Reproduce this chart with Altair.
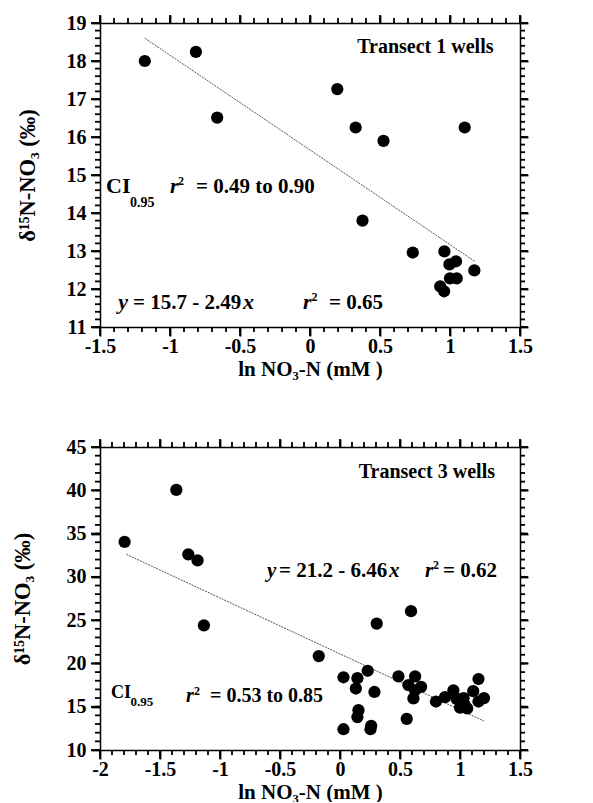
import altair as alt
import pandas as pd

# ---------------- data ----------------
top_x = [-1.18, -0.815, -0.663, 0.195, 0.326, 0.525, 1.105, 0.375, 0.734,
         0.96, 0.996, 1.043, 1.174, 0.93, 0.958, 1.0, 1.048]
top_y = [18.0, 18.24, 16.51, 17.26, 16.25, 15.9, 16.25, 13.8, 12.96,
         12.99, 12.65, 12.73, 12.49, 12.07, 11.94, 12.28, 12.28]
top_line_x = [-1.18, 1.18]
top_line_y = [18.6, 12.72]

bot_x = [-1.795, -1.364, -1.264, -1.187, -1.134, -0.177, 0.029, 0.029, 0.145,
         0.132, 0.154, 0.145, 0.231, 0.287, 0.26, 0.254, 0.306, 0.487, 0.556,
         0.592, 0.626, 0.57, 0.626, 0.612, 0.676, 0.8, 0.875, 0.945, 0.972,
         1.03, 1.036, 1.0, 1.06, 1.11, 1.154, 1.154, 1.2]
bot_y = [34.04, 40.04, 32.6, 31.9, 24.4, 20.85, 18.4, 12.4, 18.3,
         17.1, 14.6, 13.8, 19.15, 16.7, 12.8, 12.4, 24.6, 18.5, 13.6,
         26.04, 18.5, 17.5, 16.9, 15.96, 17.3, 15.6, 16.1, 16.9, 15.9,
         16.0, 15.3, 14.9, 14.8, 16.8, 18.2, 15.6, 16.0]
bot_line_x = [-1.78, 1.2]
bot_line_y = [32.6, 13.35]

top_xdom = [-1.5, 1.5]
top_ydom = [11, 19]
bot_xdom = [-2, 1.5]
bot_ydom = [10, 45]

top_xmajor = [-1.5, -1, -0.5, 0, 0.5, 1, 1.5]
top_xminor = [round(-1.5 + 0.1 * i, 1) for i in range(31)]
top_ymajor = [11, 12, 13, 14, 15, 16, 17, 18, 19]
top_yminor = [round(11 + 0.2 * i, 1) for i in range(41)]
bot_xmajor = [-2, -1.5, -1, -0.5, 0, 0.5, 1, 1.5]
bot_xminor = [round(-2 + 0.1 * i, 1) for i in range(36)]
bot_ymajor = [10, 15, 20, 25, 30, 35, 40, 45]
bot_yminor = list(range(10, 46))

x_title = "ln NO\u2083-N (mM )"
y_title = "\u03b4\u00b9\u2075N-NO\u2083 (\u2030)"

FONT = "Liberation Serif"
W = 420


def piece(text, x, y, size, italic=False, align="left"):
    return alt.Chart(pd.DataFrame({"a": [0]})).mark_text(
        font=FONT, fontWeight="bold", fontStyle="italic" if italic else "normal",
        fontSize=size, align=align, baseline="alphabetic", color="black"
    ).encode(x=alt.value(x), y=alt.value(y), text=alt.value(text))


def xticks(vals, sc, yc, length):
    return alt.Chart(pd.DataFrame({"v": vals})).mark_tick(
        color="black", thickness=1.8, size=length, opacity=1, orient="vertical").encode(
        x=alt.X("v:Q", scale=sc, axis=None), y=alt.value(yc))


def yticks(vals, sc, xc, length):
    return alt.Chart(pd.DataFrame({"v": vals})).mark_tick(
        color="black", thickness=1.8, size=length, opacity=1, orient="horizontal").encode(
        y=alt.Y("v:Q", scale=sc, axis=None), x=alt.value(xc))


def panel(xs, ys, lx, ly, xdom, ydom, xmaj, xmin, ymaj, ymin, texts, h, ytp):
    pts = pd.DataFrame({"x": xs, "y": ys})
    ln = pd.DataFrame({"x": lx, "y": ly})
    xsc = alt.Scale(domain=xdom, nice=False, zero=False)
    ysc = alt.Scale(domain=ydom, nice=False, zero=False)

    ax_b = alt.Axis(orient="bottom", values=xmaj, ticks=True, tickSize=9, tickWidth=1.8,
                    tickColor="black", labelExpr="'' + datum.value",
                    labelFlush=False, labelOverlap=False, labelPadding=0,
                    title=x_title, titlePadding=2)
    ax_l = alt.Axis(orient="left", values=ymaj, ticks=True, tickSize=9, tickWidth=1.8,
                    tickColor="black", labelExpr="'' + datum.value",
                    labelFlush=False, labelOverlap=False, labelPadding=5,
                    title=y_title, titlePadding=ytp, titleFontSize=22.5)
    ax_t = alt.Axis(orient="top", values=xmaj, ticks=True, tickSize=8, tickWidth=1.8,
                    tickColor="black", labels=False, title=None)
    ax_r = alt.Axis(orient="right", values=ymaj, ticks=True, tickSize=8, tickWidth=1.8,
                    tickColor="black", labels=False, title=None)

    points = alt.Chart(pts).mark_circle(size=150, color="black", opacity=1).encode(
        x=alt.X("x:Q", scale=xsc, axis=ax_b),
        y=alt.Y("y:Q", scale=ysc, axis=ax_l),
    )
    line = alt.Chart(ln).mark_line(color="#555555", strokeWidth=1, strokeDash=[2, 1]).encode(
        x=alt.X("x:Q", scale=xsc, axis=ax_t),
        y=alt.Y("y:Q", scale=ysc, axis=ax_r),
    )
    ticks = [
        xticks(xmaj, xsc, h + 4.5, 9), xticks(xmin, xsc, h + 2.5, 5),
        xticks(xmaj, xsc, -4, 8), xticks(xmin, xsc, -2.5, 5),
        yticks(ymaj, ysc, -4.5, 9), yticks(ymin, ysc, -2.5, 5),
        yticks(ymaj, ysc, W + 4, 8), yticks(ymin, ysc, W + 2.5, 5),
    ]
    layers = ticks + [line, points] + [piece(*t) for t in texts]
    return alt.layer(*layers).resolve_axis(x="independent", y="independent").properties(
        width=W, height=h)


top_texts = [
    ("Transect 1 wells", 393.5, 29.5, 20, False, "right"),
    ("CI", 6, 169.5, 22),
    ("0.95", 30, 184, 14),
    ("r", 70, 169.5, 22, True),
    ("2", 78, 162, 12),
    ("= 0.49 to 0.90", 96, 169.5, 21),
    ("y", 18.3, 285.5, 22, True),
    ("= 15.7 - 2.49", 33, 285.5, 21),
    ("x", 143, 285.5, 22, True),
    ("r", 203, 285.5, 22, True),
    ("2", 211.5, 277.5, 12),
    ("= 0.65", 229, 285.5, 21),
]

bot_texts = [
    ("Transect 3 wells", 395, 31, 20, False, "right"),
    ("y", 167, 130, 21, True),
    ("= 21.2 - 6.46", 179, 130, 21),
    ("x", 289, 130, 21, True),
    ("r", 325, 130, 21, True),
    ("2", 333, 122, 12),
    ("= 0.62", 343, 130, 21),
    ("CI", 11, 251, 18),
    ("0.95", 30.4, 259, 13),
    ("r", 86, 255, 20, True),
    ("2", 94, 248, 12),
    ("= 0.53 to 0.85", 110, 255, 20),
]

top = panel(top_x, top_y, top_line_x, top_line_y, top_xdom, top_ydom,
            top_xmajor, top_xminor, top_ymajor, top_yminor, top_texts, 304, 27)
bottom = panel(bot_x, bot_y, bot_line_x, bot_line_y, bot_xdom, bot_ydom,
               bot_xmajor, bot_xminor, bot_ymajor, bot_yminor, bot_texts, 303, 32)

chart = alt.concat(top, bottom, columns=1, align="none", spacing=58).properties(
    padding={"left": 3, "top": 5, "right": 5, "bottom": 0}
).configure_view(stroke=None).configure_axis(
    grid=False, domainColor="black", domainWidth=1.5,
    labelFont=FONT, labelFontWeight="bold", labelFontSize=20,
    labelColor="black", titleFont=FONT, titleFontWeight="bold", titleFontSize=21,
    titleColor="black",
)

chart.save("out.html", embed_options={"renderer": "svg", "actions": False})
